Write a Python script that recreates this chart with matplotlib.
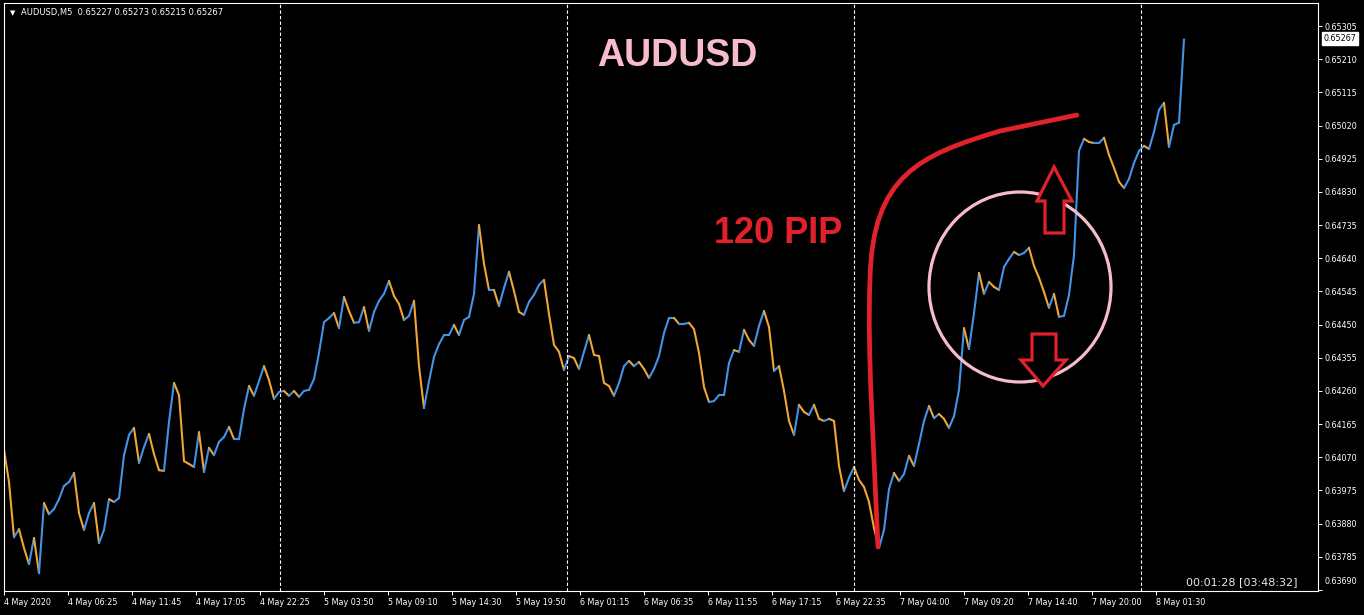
import numpy as np
import matplotlib
matplotlib.use("Agg")
import matplotlib.pyplot as plt
import matplotlib.transforms as mtransforms
from matplotlib.collections import LineCollection
from matplotlib.patches import Ellipse, Polygon, PathPatch
from matplotlib.path import Path

# AUDUSD M5 closes, every 5 bars (4 May 2020 -> 8 May 2020)
bar_step = 5
closes = [
    0.64091, 0.63999, 0.63841, 0.63864, 0.63810, 0.63764, 0.63839, 0.63738, 0.63939, 0.63907,
    0.63922, 0.63950, 0.63988, 0.63999, 0.64025, 0.63910, 0.63862, 0.63910, 0.63939, 0.63824,
    0.63862, 0.63950, 0.63942, 0.63953, 0.64076, 0.64134, 0.64154, 0.64054, 0.64099, 0.64137,
    0.64079, 0.64033, 0.64031, 0.64171, 0.64283, 0.64248, 0.64059, 0.64051, 0.64042, 0.64142,
    0.64028, 0.64097, 0.64076, 0.64114, 0.64128, 0.64157, 0.64122, 0.64122, 0.64208, 0.64274,
    0.64246, 0.64288, 0.64331, 0.64291, 0.64237, 0.64257, 0.64260, 0.64246, 0.64260, 0.64243,
    0.64260, 0.64263, 0.64294, 0.64369, 0.64457, 0.64469, 0.64483, 0.64440, 0.64529, 0.64489,
    0.64455, 0.64457, 0.64500, 0.64432, 0.64486, 0.64518, 0.64538, 0.64575, 0.64532, 0.64509,
    0.64463, 0.64475, 0.64518, 0.64331, 0.64211, 0.64288, 0.64357, 0.64394, 0.64420, 0.64420,
    0.64449, 0.64420, 0.64463, 0.64472, 0.64538, 0.64735, 0.64624, 0.64549, 0.64549, 0.64503,
    0.64555, 0.64601, 0.64546, 0.64486, 0.64478, 0.64515, 0.64535, 0.64564, 0.64578, 0.64480,
    0.64392, 0.64372, 0.64320, 0.64360, 0.64354, 0.64323, 0.64372, 0.64420, 0.64363, 0.64360,
    0.64283, 0.64274, 0.64246, 0.64283, 0.64331, 0.64346, 0.64331, 0.64343, 0.64323, 0.64297,
    0.64323, 0.64360, 0.64426, 0.64469, 0.64469, 0.64452, 0.64452, 0.64455, 0.64437, 0.64369,
    0.64271, 0.64228, 0.64231, 0.64248, 0.64248, 0.64340, 0.64377, 0.64372, 0.64435, 0.64406,
    0.64389, 0.64446, 0.64489, 0.64443, 0.64317, 0.64331, 0.64260, 0.64174, 0.64134, 0.64220,
    0.64200, 0.64191, 0.64220, 0.64180, 0.64174, 0.64180, 0.64174, 0.64045, 0.63973, 0.64011,
    0.64042, 0.64005, 0.63985, 0.63942, 0.63867, 0.63810, 0.63862, 0.63979, 0.64025, 0.64002,
    0.64022, 0.64074, 0.64045, 0.64108, 0.64174, 0.64217, 0.64182, 0.64194, 0.64180, 0.64154,
    0.64188, 0.64263, 0.64440, 0.64380, 0.64483, 0.64598, 0.64538, 0.64572, 0.64558, 0.64549,
    0.64615, 0.64638, 0.64658, 0.64649, 0.64655, 0.64670, 0.64618, 0.64584, 0.64543, 0.64498,
    0.64538, 0.64472, 0.64475, 0.64535, 0.64649, 0.64947, 0.64982, 0.64973, 0.64970, 0.64970,
    0.64985, 0.64936, 0.64899, 0.64859, 0.64841, 0.64867, 0.64913, 0.64947, 0.64962, 0.64953,
    0.65002, 0.65065, 0.65085, 0.64959, 0.65022, 0.65028, 0.65267,
]

time_labels = ["4 May 2020", "4 May 06:25", "4 May 11:45", "4 May 17:05", "4 May 22:25",
               "5 May 03:50", "5 May 09:10", "5 May 14:30", "5 May 19:50", "6 May 01:15",
               "6 May 06:35", "6 May 11:55", "6 May 17:15", "6 May 22:35", "7 May 04:00",
               "7 May 09:20", "7 May 14:40", "7 May 20:00", "8 May 01:30"]
label_every = 64          # bars between time labels
day_breaks = [276, 563, 850, 1137]   # bar index of each new day

price_ticks = [0.65305, 0.65210, 0.65115, 0.65020, 0.64925, 0.64830, 0.64735, 0.64640,
               0.64545, 0.64450, 0.64355, 0.64260, 0.64165, 0.64070, 0.63975, 0.63880,
               0.63785, 0.63690]

header = "AUDUSD,M5  0.65227 0.65273 0.65215 0.65267"
last_price = 0.65267
timer = "00:01:28 [03:48:32]"

UP = "#4393e6"
DOWN = "#f0a535"
RED = "#e2222b"
PINK = "#f7bccb"

W, H = 1364, 615
fig = plt.figure(figsize=(W / 100, H / 100), dpi=100, facecolor="black")
ax = fig.add_axes([3.5 / W, 24 / H, 1314.5 / W, 588 / H], facecolor="black")

c = np.array(closes)
x = np.arange(len(c)) * bar_step
segs = [[(x[i - 1], c[i - 1]), (x[i], c[i])] for i in range(1, len(c))]
cols = [UP if c[i] >= c[i - 1] else DOWN for i in range(1, len(c))]
ax.add_collection(LineCollection(segs, colors=cols, linewidths=1.5, capstyle="round"))

for d in day_breaks:
    ax.axvline(d, color="white", lw=0.8, ls=(0, (3, 2)))

ax.set_xlim(-0.5, 1314)
ax.set_ylim(0.63687, 0.65371)

ax.set_xticks(np.arange(len(time_labels)) * label_every)
ax.set_xticklabels(time_labels, ha="left")
ax.yaxis.tick_right()
ax.set_yticks(price_ticks)
ax.set_yticklabels([f"{p:.5f}" for p in price_ticks])
ax.tick_params(colors="white", labelcolor="white", labelsize=5.8, length=3, width=0.7, pad=2)
for s in ax.spines.values():
    s.set_color("white")
    s.set_linewidth(0.8)

# lowest price label sits just above the chart bottom, as in the terminal
lowest = ax.get_yticklabels()[-1]
lowest.set_transform(lowest.get_transform() +
                     mtransforms.ScaledTranslation(0, 7 / 72, fig.dpi_scale_trans))

# annotation layer in pixel coordinates
ov = fig.add_axes([0, 0, 1, 1])
ov.set_xlim(0, W)
ov.set_ylim(H, 0)
ov.axis("off")
ov.patch.set_alpha(0)

ov.text(10, 13, "\u25bc", color="white", fontsize=5, va="center", ha="left")
ov.text(21, 13, header, color="white", fontsize=6, va="center", ha="left")
ov.text(1297, 582, timer, color="#e8e8e8", fontsize=8, va="center", ha="right")
ov.text(1324, 38.5, f"{last_price:.5f}", color="black", fontsize=5.8, va="center", ha="left",
        bbox=dict(boxstyle="square,pad=0.2", fc="white", ec="white"))

ov.text(597, 66, "AUDUSD", color=PINK, fontsize=27, fontweight="bold",
        family="Liberation Sans", ha="left", va="baseline")
ov.text(714, 243, "120 PIP", color=RED, fontsize=26, fontweight="bold",
        family="Liberation Sans", ha="left", va="baseline")

curve = Path([(878, 547), (874, 450), (867, 350), (870, 280),
              (872, 175), (920, 155), (1000, 131), (1077, 115)],
             [Path.MOVETO, Path.CURVE4, Path.CURVE4, Path.CURVE4,
              Path.CURVE4, Path.CURVE4, Path.CURVE4, Path.LINETO])
ov.add_patch(PathPatch(curve, fc="none", ec=RED, lw=3.4, capstyle="round"))

ov.add_patch(Ellipse((1020, 287), 182, 190, fc="none", ec=PINK, lw=2.3))

up_arrow = [(1054, 167), (1072, 201), (1064, 201), (1064, 233), (1045, 233), (1045, 201), (1037, 201)]
down_arrow = [(1032, 334), (1056, 334), (1056, 360), (1066, 360), (1043, 386), (1021, 360), (1032, 360)]
for pts in (up_arrow, down_arrow):
    ov.add_patch(Polygon(pts, closed=True, fc="black", ec=RED, lw=2.3, joinstyle="miter"))

fig.savefig("out.png", dpi=100, facecolor="black")
